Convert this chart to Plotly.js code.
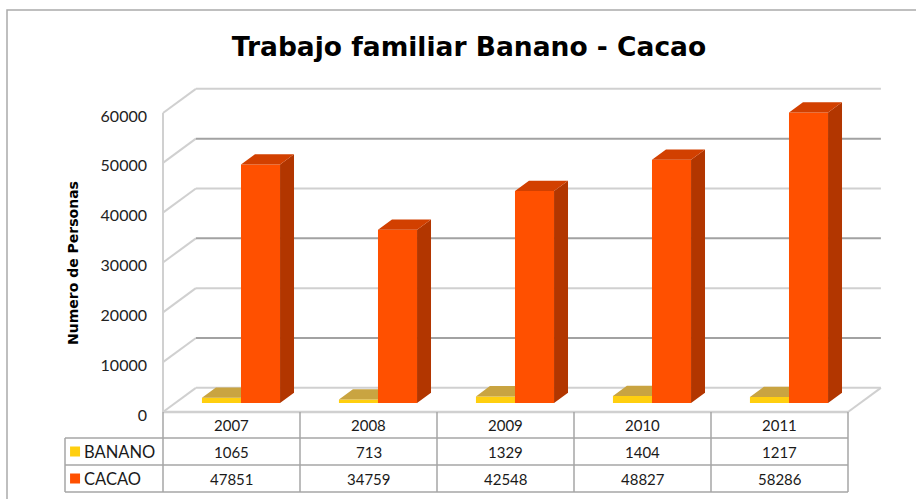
<!DOCTYPE html>
<html>
<head>
<meta charset="utf-8">
<script src="https://cdn.plot.ly/plotly-3.0.1.min.js"></script>
<style>html,body{margin:0;padding:0;background:#fff;}#chart{width:916px;height:499px;}</style>
</head>
<body>
<div id="chart"></div>
<script>
// ---- data ----
const years = ['2007', '2008', '2009', '2010', '2011'];
const seriesNames = ['BANANO', 'CACAO'];
const banano = [1065, 713, 1329, 1404, 1217];
const cacao = [47851, 34759, 42548, 48827, 58286];
const yTickVals = [0, 10000, 20000, 30000, 40000, 50000, 60000];
const yTickLabels = ['0', '10000', '20000', '30000', '40000', '50000', '60000'];

// ---- geometry / style ----
const W = 916, H = 499;
const PXX = 137;                 // px per category
const X0PX = 163;                // px of category 0 front-left
const Y0PX = 412;                // px of value 0 on front plane
const PXY = 299 / 60000;         // px per value unit
const DX = 0.24, DY = 4850;      // full depth of the 3D box (data units)
const F1 = 0.372, F2 = 0.797;    // bar front / back depth fractions
const BAR_OFF = 0.195, BAR_W = 0.285;
const N = years.length;
const font = 'Lato, "Open Sans", sans-serif';
const wide = '"DejaVu Sans", Lato, sans-serif';

const xr = [-X0PX / PXX, (W - X0PX) / PXX];
const yr = [-(H - Y0PX) / PXY, Y0PX / PXY];
const pxToY = p => (Y0PX - p) / PXY;

const faceColors = [
  {front: '#FFCF0F', top: '#C9A441', side: '#B8900A'},
  {front: '#FF5000', top: '#D24000', side: '#B23600'}
];

function poly() { return {x: [], y: []}; }
function add(p, xs, ys) { p.x.push(...xs, xs[0], null); p.y.push(...ys, ys[0], null); }

const traces = [];
[banano, cacao].forEach((vals, s) => {
  const fr = poly(), tp = poly(), sd = poly();
  const ddx = (F2 - F1) * DX, ddy = (F2 - F1) * DY;
  vals.forEach((v, i) => {
    const x0 = i + BAR_OFF + s * BAR_W + F1 * DX;
    const x1 = x0 + BAR_W;
    const yb = F1 * DY, yt = yb + v;
    add(fr, [x0, x1, x1, x0], [yb, yb, yt, yt]);
    add(tp, [x0, x1, x1 + ddx, x0 + ddx], [yt, yt, yt + ddy, yt + ddy]);
    add(sd, [x1, x1 + ddx, x1 + ddx, x1], [yb, yb + ddy, yt + ddy, yt]);
  });
  const mk = (p, c, nm) => ({type: 'scatter', mode: 'lines', x: p.x, y: p.y, fill: 'toself',
    fillcolor: c, line: {width: 0, color: c}, hoverinfo: 'skip', name: nm, showlegend: false});
  traces.push(mk(fr, faceColors[s].front, seriesNames[s]));
  traces.push(mk(sd, faceColors[s].side, seriesNames[s]));
  traces.push(mk(tp, faceColors[s].top, seriesNames[s]));
});

// legend keys in the table
const rowY = [pxToY(425), pxToY(451.5), pxToY(478.5)];
traces.push({type: 'scatter', mode: 'markers', x: [-0.642, -0.642], y: [rowY[1], rowY[2]],
  marker: {symbol: 'square', size: 10, color: [faceColors[0].front, faceColors[1].front], line: {width: 0}},
  hoverinfo: 'skip', showlegend: false});

const shapes = [];
const LIGHT = '#D0D0D0', DARK = '#A2A2A2', TBL = '#A6A6A6';
// walls / gridlines
yTickVals.forEach((v, k) => {
  shapes.push({type: 'line', xref: 'x', yref: 'y', x0: 0, y0: v, x1: DX, y1: v + DY,
    line: {color: LIGHT, width: 2}, layer: 'below'});
  shapes.push({type: 'line', xref: 'x', yref: 'y', x0: DX, y0: v + DY, x1: N + DX, y1: v + DY,
    line: {color: k % 2 ? DARK : LIGHT, width: 2}, layer: 'below'});
});
shapes.push({type: 'line', xref: 'x', yref: 'y', x0: 0, y0: 0, x1: 0, y1: yTickVals[yTickVals.length - 1],
  line: {color: LIGHT, width: 2}, layer: 'below'});
shapes.push({type: 'line', xref: 'x', yref: 'y', x0: N, y0: 0, x1: N + DX, y1: DY,
  line: {color: LIGHT, width: 2}, layer: 'below'});
shapes.push({type: 'line', xref: 'x', yref: 'y', x0: 0, y0: 0, x1: N, y1: 0,
  line: {color: LIGHT, width: 2.5}, layer: 'below'});
// table
const yRows = [pxToY(412), pxToY(438), pxToY(465), pxToY(492)];
const xLab = (65 - X0PX) / PXX;
for (let i = 0; i <= N; i++) {
  shapes.push({type: 'line', xref: 'x', yref: 'y', x0: i, y0: yRows[0], x1: i, y1: yRows[3],
    line: {color: TBL, width: 1.5}});
}
for (let r = 1; r <= 3; r++) {
  shapes.push({type: 'line', xref: 'x', yref: 'y', x0: xLab, y0: yRows[r], x1: N, y1: yRows[r],
    line: {color: TBL, width: 1.5}});
}
shapes.push({type: 'line', xref: 'x', yref: 'y', x0: xLab, y0: yRows[1], x1: xLab, y1: yRows[3],
  line: {color: TBL, width: 1.5}});
// outer chart border
shapes.push({type: 'rect', xref: 'paper', yref: 'paper', x0: 7 / W, y0: -0.1, x1: 1.1, y1: 1 - 10 / H,
  line: {color: '#ABABAB', width: 1.5}, fillcolor: 'rgba(0,0,0,0)', layer: 'below'});

const annotations = [];
const tf = {family: font, size: 15, color: '#1A1A1A'};
years.forEach((yrs, i) => {
  annotations.push({x: i + 0.5, y: rowY[0], xref: 'x', yref: 'y', text: yrs, showarrow: false, font: tf});
  annotations.push({x: i + 0.5, y: rowY[1], xref: 'x', yref: 'y', text: String(banano[i]), showarrow: false, font: tf});
  annotations.push({x: i + 0.5, y: rowY[2], xref: 'x', yref: 'y', text: String(cacao[i]), showarrow: false, font: tf});
});
seriesNames.forEach((nm, s) => {
  annotations.push({x: (82 - X0PX) / PXX, y: rowY[s + 1], xref: 'x', yref: 'y', text: nm, showarrow: false,
    xanchor: 'left', font: {family: font, size: 16.5, color: '#1A1A1A'}});
});
annotations.push({x: 63 / W, y: 1 - 263 / H, xref: 'paper', yref: 'paper', text: '<b>Numero de Personas</b>',
  textangle: -90, showarrow: false, font: {family: wide, size: 14, color: '#000'}});

const layout = {
  width: W, height: H,
  margin: {l: 0, r: 0, t: 0, b: 0, pad: 0},
  paper_bgcolor: '#fff', plot_bgcolor: '#fff',
  showlegend: false,
  title: {text: '<b>Trabajo familiar Banano - Cacao</b>', x: 469 / W, xanchor: 'center', xref: 'paper',
    y: 1 - 47 / H, yanchor: 'middle', yref: 'paper', font: {family: wide, size: 26.5, color: '#000'}},
  xaxis: {range: xr, visible: false, fixedrange: true},
  yaxis: {range: yr, anchor: 'free', position: X0PX / W, tickvals: yTickVals, ticktext: yTickLabels,
    ticks: '', ticklabelstandoff: 16, ticklabelshift: 3, showgrid: false, zeroline: false,
    showline: false, tickfont: {family: font, size: 16, color: '#222'}, fixedrange: true},
  shapes: shapes,
  annotations: annotations
};

Plotly.newPlot('chart', traces, layout, {staticPlot: true, displayModeBar: false});
</script>
</body>
</html>
